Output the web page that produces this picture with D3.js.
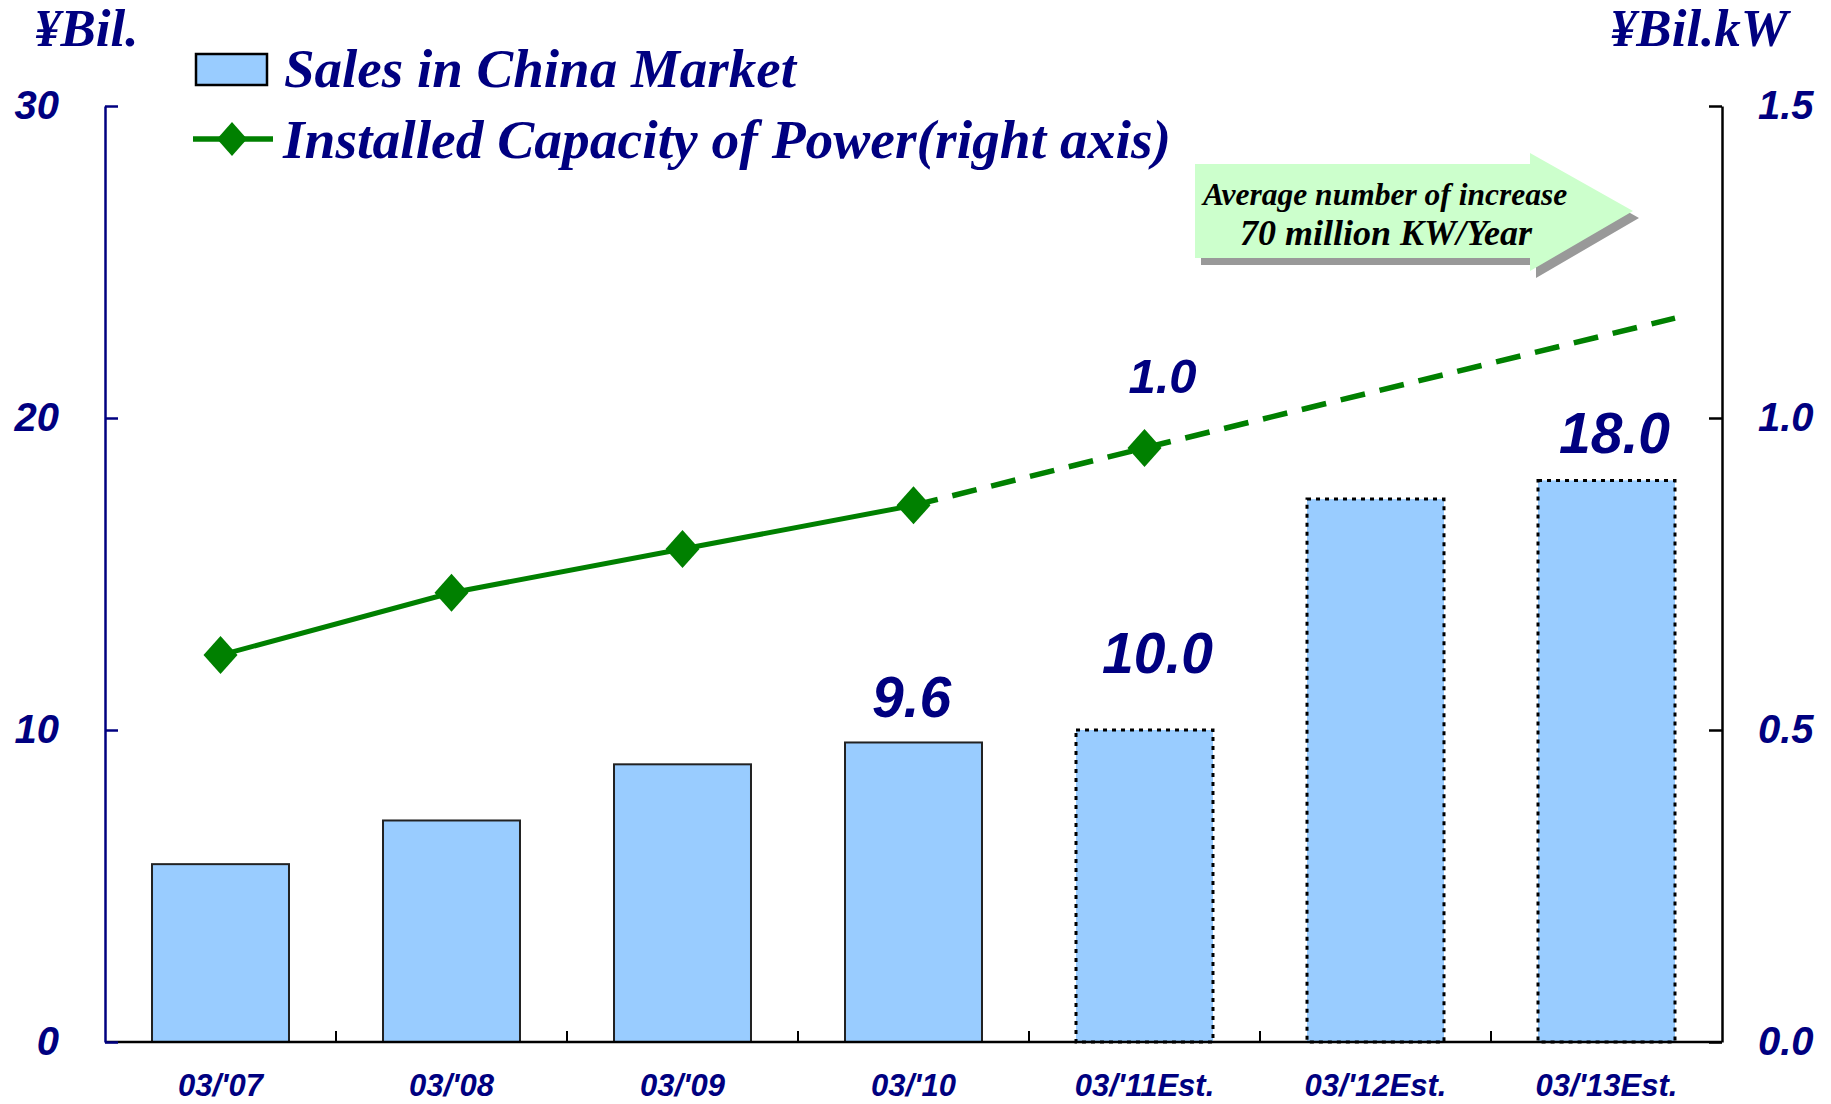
<!DOCTYPE html>
<html>
<head>
<meta charset="utf-8">
<script src="https://cdn.jsdelivr.net/npm/d3@7"></script>
<style>
  html, body { margin: 0; padding: 0; background: #fff; }
  svg { display: block; }
  .sans { font-family: "Liberation Sans", Arial, sans-serif; font-weight: bold; font-style: italic; }
  .serif { font-family: "Liberation Serif", "Times New Roman", serif; font-weight: bold; font-style: italic; }
</style>
</head>
<body>
<script>
// Fiscal years (March year-end); the last three are estimates
const categories = ["03/'07", "03/'08", "03/'09", "03/'10", "03/'11Est.", "03/'12Est.", "03/'13Est."];
const estimated  = [false, false, false, false, true, true, true];

// Sales in China market, ¥ billion (left axis)
const sales = [5.7, 7.1, 8.9, 9.6, 10.0, 17.4, 18.0];

// Installed power capacity, billion kW (right axis), 03/'07 .. 03/'11Est.
const capacity = [0.62, 0.72, 0.79, 0.86, 0.952];
// End value of the projected trend, reached at the right edge of the last bar
const capacityTrendEnd = 1.16;

// Bars / points that carry a value label
const labelledSales = ["03/'10", "03/'11Est.", "03/'13Est."];
const labelledCapacity = ["03/'11Est."];

// Axis ticks
const leftTicks  = [0, 10, 20, 30];
const rightTicks = [0, 0.5, 1.0, 1.5];

const W = 1831, H = 1104;
const NAVY = "#000080", GREEN = "#008000", BAR = "#99CCFF";
const plot = { left: 105, right: 1722, top: 106, bottom: 1042 };

// Label placement relative to each labelled bar top (px)
const salesLabelPos = {
  "03/'10":     { dx: -2, lift: 25 },
  "03/'11Est.": { dx: 13, lift: 57 },
  "03/'13Est.": { dx: 8,  lift: 27 }
};

const svg = d3.select("body").append("svg").attr("width", W).attr("height", H);

const x = d3.scaleBand().domain(categories).range([plot.left, plot.right])
  .paddingInner(0.407).paddingOuter(0.2035);
const yL = d3.scaleLinear().domain([0, 30]).range([plot.bottom, plot.top]);
const yR = d3.scaleLinear().domain([0, 1.5]).range([plot.bottom, plot.top]);
const cx = c => x(c) + x.bandwidth() / 2;

// ---- Bars ----
const bars = categories.map((c, i) => ({ c, v: sales[i], est: estimated[i] }));
svg.append("g").selectAll("rect").data(bars).join("rect")
  .attr("x", d => x(d.c))
  .attr("y", d => yL(d.v))
  .attr("width", x.bandwidth())
  .attr("height", d => yL(0) - yL(d.v))
  .attr("fill", BAR)
  .attr("stroke", d => d.est ? "#000" : "#222")
  .attr("stroke-width", d => d.est ? 3 : 2)
  .attr("stroke-dasharray", d => d.est ? "4,5" : null);

// ---- X axis: baseline, boundary ticks, labels ----
const step = x.step();
const xAxis = svg.append("g");
xAxis.append("line")
  .attr("x1", plot.left).attr("x2", plot.right)
  .attr("y1", plot.bottom).attr("y2", plot.bottom)
  .attr("stroke", "#000").attr("stroke-width", 2.5);
xAxis.selectAll("line.tick").data(d3.range(1, categories.length)).join("line")
  .attr("class", "tick")
  .attr("x1", i => plot.left + i * step).attr("x2", i => plot.left + i * step)
  .attr("y1", plot.bottom).attr("y2", plot.bottom - 11)
  .attr("stroke", "#000").attr("stroke-width", 2);
xAxis.selectAll("text").data(categories).join("text")
  .attr("class", "sans")
  .attr("x", d => cx(d)).attr("y", 1096)
  .attr("text-anchor", "middle")
  .attr("font-size", 31).attr("fill", NAVY)
  .text(d => d);

// ---- Left axis ----
const gL = svg.append("g").attr("transform", `translate(${plot.left},0)`)
  .call(d3.axisLeft(yL).tickValues(leftTicks).tickSizeInner(-13).tickSizeOuter(0).tickPadding(46).tickFormat(d3.format("d")));
gL.select(".domain").attr("stroke", NAVY).attr("stroke-width", 2.5);
gL.selectAll(".tick line").attr("stroke", NAVY).attr("stroke-width", 2.5);
gL.selectAll(".tick text").attr("class", "sans").attr("font-size", 40).attr("fill", NAVY);

// ---- Right axis ----
const gR = svg.append("g").attr("transform", `translate(${plot.right},0)`)
  .call(d3.axisRight(yR).tickValues(rightTicks).tickSizeInner(-13).tickSizeOuter(0).tickPadding(36).tickFormat(d3.format(".1f")));
gR.select(".domain").attr("stroke", "#000").attr("stroke-width", 2.5);
gR.selectAll(".tick line").attr("stroke", "#000").attr("stroke-width", 2.5);
gR.selectAll(".tick text").attr("class", "sans").attr("font-size", 40).attr("fill", NAVY);

// Axis unit titles
svg.append("text").attr("class", "serif").attr("x", 34).attr("y", 46)
  .attr("font-size", 53).attr("fill", NAVY).text("¥Bil.");
svg.append("text").attr("class", "serif").attr("x", 1788).attr("y", 46)
  .attr("text-anchor", "end").attr("font-size", 53).attr("fill", NAVY).text("¥Bil.kW");

// ---- Capacity line ----
const pts = capacity.map((v, i) => ({ c: categories[i], v, px: cx(categories[i]), py: yR(v) }));
const lastBar = categories[categories.length - 1];
const trendEnd = { px: x(lastBar) + x.bandwidth(), py: yR(capacityTrendEnd) };
const line = d3.line().x(d => d.px).y(d => d.py);

// actual results: solid
svg.append("path").datum(pts.slice(0, 4)).attr("d", line)
  .attr("fill", "none").attr("stroke", GREEN).attr("stroke-width", 5);
// projection: dashed
svg.append("path").datum(pts.slice(3).concat([trendEnd])).attr("d", line)
  .attr("fill", "none").attr("stroke", GREEN).attr("stroke-width", 5.5)
  .attr("stroke-dasharray", "25,15");

const diamond = (hx, hy) => `M0,${-hy}L${hx},0L0,${hy}L${-hx},0Z`;
svg.append("g").selectAll("path").data(pts).join("path")
  .attr("transform", d => `translate(${d.px},${d.py})`)
  .attr("d", diamond(17, 19))
  .attr("fill", GREEN);

// ---- Value labels ----
const fmt = d3.format(".1f");
svg.append("g").selectAll("text").data(bars.filter(d => labelledSales.includes(d.c))).join("text")
  .attr("class", "sans")
  .attr("x", d => cx(d.c) + salesLabelPos[d.c].dx).attr("y", d => yL(d.v) - salesLabelPos[d.c].lift)
  .attr("text-anchor", "middle").attr("font-size", 57).attr("fill", NAVY)
  .text(d => fmt(d.v));
svg.append("g").selectAll("text").data(pts.filter(d => labelledCapacity.includes(d.c))).join("text")
  .attr("class", "sans")
  .attr("x", d => d.px + 18).attr("y", d => d.py - 55)
  .attr("text-anchor", "middle").attr("font-size", 49).attr("fill", NAVY)
  .text(d => fmt(d.v));

// ---- Legend ----
const lg = svg.append("g");
lg.append("rect").attr("x", 196).attr("y", 54).attr("width", 71).attr("height", 31)
  .attr("fill", BAR).attr("stroke", "#000").attr("stroke-width", 2.5);
lg.append("text").attr("class", "serif").attr("x", 284).attr("y", 87)
  .attr("font-size", 55).attr("fill", NAVY).text("Sales in China Market");
lg.append("line").attr("x1", 193).attr("x2", 273).attr("y1", 139).attr("y2", 139)
  .attr("stroke", GREEN).attr("stroke-width", 5.5);
lg.append("path").attr("transform", "translate(232,139)").attr("d", diamond(15, 17)).attr("fill", GREEN);
lg.append("text").attr("class", "serif").attr("x", 283).attr("y", 158)
  .attr("font-size", 55.5).attr("fill", NAVY).text("Installed Capacity of Power(right axis)");

// ---- Growth annotation arrow ----
const arrow = [[1195, 164], [1530, 164], [1530, 153], [1633, 211], [1530, 271], [1530, 258], [1195, 258]];
const ann = svg.append("g");
ann.append("polygon").attr("points", arrow.map(p => [p[0] + 6, p[1] + 7].join(",")).join(" "))
  .attr("fill", "#999");
ann.append("polygon").attr("points", arrow.map(p => p.join(",")).join(" "))
  .attr("fill", "#CCFFCC");
ann.append("text").attr("class", "serif").attr("x", 1385).attr("y", 205)
  .attr("text-anchor", "middle").attr("font-size", 31.5).attr("fill", "#000")
  .text("Average number of increase");
ann.append("text").attr("class", "serif").attr("x", 1386).attr("y", 245)
  .attr("text-anchor", "middle").attr("font-size", 36).attr("fill", "#000")
  .text("70 million KW/Year");
</script>
</body>
</html>
